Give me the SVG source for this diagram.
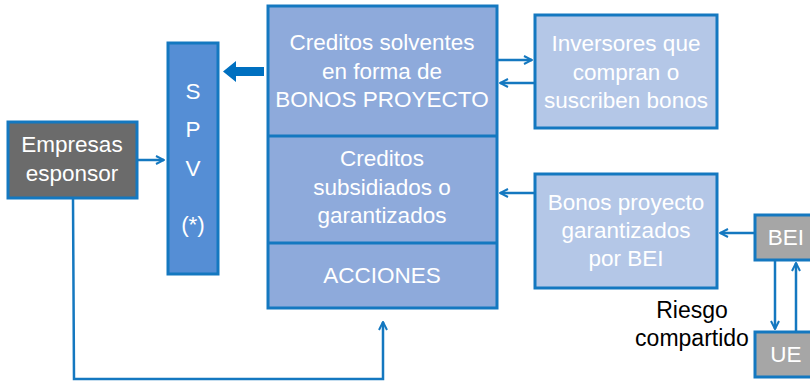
<svg xmlns="http://www.w3.org/2000/svg" width="810" height="382" viewBox="0 0 810 382">
<defs>
<marker id="ah" viewBox="0 0 10 10" refX="9" refY="5" markerWidth="10" markerHeight="10" markerUnits="userSpaceOnUse" orient="auto">
<path d="M1,1 L9,5 L1,9" fill="none" stroke="#1478c0" stroke-width="2"/>
</marker>
</defs>
<style>
.box{stroke:#1478c0;stroke-width:3}
.t{font-family:"Liberation Sans",Arial,sans-serif;font-size:22.5px;fill:#ffffff;text-anchor:middle}
.k{font-family:"Liberation Sans",Arial,sans-serif;font-size:23px;fill:#000000;text-anchor:middle}
.c{fill:none;stroke:#1478c0;stroke-width:2.5}
</style>
<rect width="810" height="382" fill="#ffffff"/>
<g id="empresas">
<rect class="box" x="8" y="122" width="129" height="76" fill="#6b6b6b"/>
<text class="t" x="72" y="152">Empresas</text>
<text class="t" x="72" y="181">esponsor</text>
</g>
<g id="spv">
<rect class="box" x="168" y="43" width="50" height="231" fill="#558ed5"/>
<text class="t" x="193" y="99">S</text>
<text class="t" x="193" y="137">P</text>
<text class="t" x="193" y="176">V</text>
<text class="t" x="193" y="232">(*)</text>
</g>
<g id="estructura">
<rect class="box" x="268" y="6" width="229" height="302" fill="#8eaadb"/>
<line class="box" x1="268" y1="136" x2="497" y2="136"/>
<line class="box" x1="268" y1="243" x2="497" y2="243"/>
<text class="t" x="382" y="50">Creditos solventes</text>
<text class="t" x="382" y="79">en forma de</text>
<text class="t" x="382" y="107">BONOS PROYECTO</text>
<text class="t" x="382" y="166">Creditos</text>
<text class="t" x="382" y="195">subsidiados o</text>
<text class="t" x="382" y="223">garantizados</text>
<text class="t" x="382" y="283">ACCIONES</text>
</g>
<g id="inversores">
<rect class="box" x="535" y="15" width="182" height="113" fill="#b4c7e7"/>
<text class="t" x="626" y="51">Inversores que</text>
<text class="t" x="626" y="80">compran o</text>
<text class="t" x="626" y="108">suscriben bonos</text>
</g>
<g id="bonos">
<rect class="box" x="535" y="174" width="182" height="114" fill="#b4c7e7"/>
<text class="t" x="626" y="210">Bonos proyecto</text>
<text class="t" x="626" y="238">garantizados</text>
<text class="t" x="626" y="266">por BEI</text>
</g>
<g id="bei">
<rect class="box" x="755" y="215" width="58" height="45" fill="#a6a6a6"/>
<text class="t" x="786" y="245">BEI</text>
</g>
<g id="ue">
<rect class="box" x="755" y="332" width="58" height="45" fill="#a6a6a6"/>
<text class="t" x="786" y="362">UE</text>
</g>
<g id="riesgo">
<text class="k" x="692" y="318">Riesgo</text>
<text class="k" x="692" y="346">compartido</text>
</g>
<g id="connectors">
<path d="M264,67 L236,67 L236,61 L223,71.5 L236,82 L236,76 L264,76 Z" fill="#0070c0"/>
<line class="c" x1="137" y1="160" x2="164" y2="160" marker-end="url(#ah)"/>
<polyline class="c" points="73,198 74,379 383,379 383,322" marker-end="url(#ah)"/>
<line class="c" x1="497" y1="60" x2="532" y2="60" marker-end="url(#ah)"/>
<line class="c" x1="535" y1="83" x2="500" y2="83" marker-end="url(#ah)"/>
<line class="c" x1="535" y1="193" x2="500" y2="193" marker-end="url(#ah)"/>
<line class="c" x1="755" y1="233" x2="720" y2="233" marker-end="url(#ah)"/>
<line class="c" x1="775" y1="260" x2="775" y2="329" marker-end="url(#ah)"/>
<line class="c" x1="796" y1="332" x2="796" y2="263" marker-end="url(#ah)"/>
</g>
</svg>
